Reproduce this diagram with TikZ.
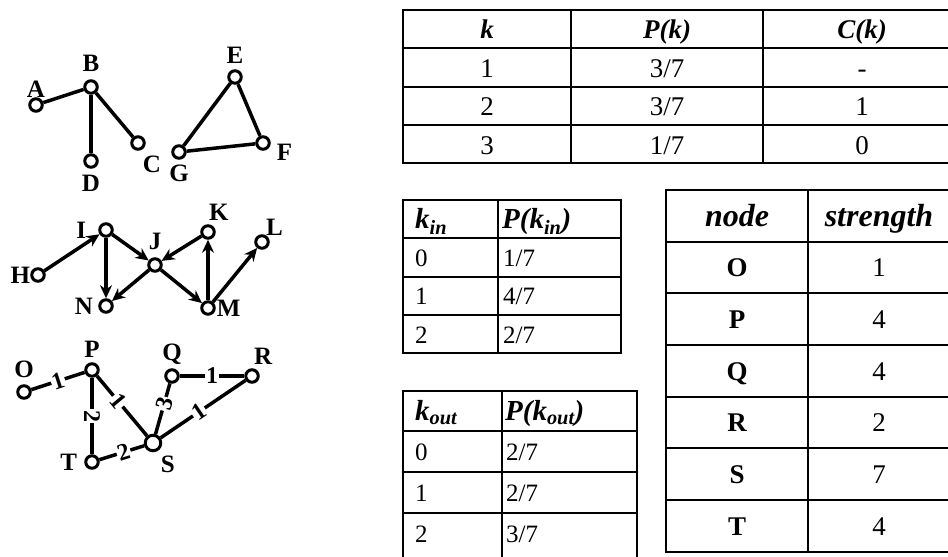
\documentclass[tikz,border=0pt]{standalone}
\usepackage{fontspec}
\setmainfont{Liberation Serif}
\usetikzlibrary{arrows.meta}

\begin{document}
\begin{tikzpicture}[x=1pt, y=-1pt,
    vertex/.style={circle, draw, line width=3pt, fill=white, minimum size=12.5pt, inner sep=0pt,
        label distance=4pt},
    hub/.style={vertex, minimum size=15.5pt},
    lbl/.style={font=\fontsize{25}{25}\selectfont\bfseries, inner sep=0pt},
    link/.style={line width=3.5pt},
    arc/.style={link, -{Stealth[length=13pt, width=12pt]}},
    weight/.style={font=\fontsize{24}{24}\selectfont\bfseries, fill=white, inner sep=1pt, sloped},
    grid/.style={line width=1.8pt},
    cell/.style={inner sep=0pt, anchor=base, font=\fontsize{27}{27}\selectfont},
    head/.style={cell, font=\fontsize{27}{27}\selectfont\bfseries\itshape},
    subhead/.style={cell, anchor=base west, font=\fontsize{29}{29}\selectfont\bfseries\itshape},
    subcell/.style={cell, anchor=base west, font=\fontsize{25}{25}\selectfont}
]
\useasboundingbox (0,0) rectangle (948,557);

% Undirected graph
\node[vertex, label={[lbl]90:A}] (vA) at (36,105) {};
\node[vertex, label={[lbl, label distance=7pt]90:B}] (vB) at (91,87) {};
\node[vertex, label={[lbl, label distance=6pt]-70:C}] (vC) at (138,143) {};
\node[vertex, label={[lbl, label distance=6pt]-90:D}] (vD) at (91,161) {};
\node[vertex, label={[lbl, label distance=6pt]90:E}] (vE) at (235,77) {};
\node[vertex, label={[lbl, label distance=6pt]-5:F}] (vF) at (263,143) {};
\node[vertex, label={[lbl, label distance=5pt]-90:G}] (vG) at (179,152) {};
\draw[link] (vA) -- (vB);
\draw[link] (vB) -- (vD);
\draw[link] (vB) -- (vC);
\draw[link] (vE) -- (vF);
\draw[link] (vF) -- (vG);
\draw[link] (vG) -- (vE);

% Directed graph
\node[vertex, label={[lbl]182:H}] (vH) at (38,275) {};
\node[vertex, label={[lbl, label distance=12pt]180:I}] (vI) at (106,230) {};
\node[vertex, label={[lbl, label distance=7pt]90:J}] (vJ) at (155,265) {};
\node[vertex, label={[lbl, label distance=4pt]85:K}] (vK) at (208,232) {};
\node[vertex, label={[lbl]60:L}] (vL) at (262,242) {};
\node[vertex, label={[lbl, label distance=1pt]0:M}] (vM) at (208,308) {};
\node[vertex, label={[lbl, label distance=5pt]180:N}] (vN) at (106,306) {};
\draw[arc] (vH) -- (vI);
\draw[arc] (vI) -- (vN);
\draw[arc] (vI) -- (vJ);
\draw[arc] (vK) -- (vJ);
\draw[arc] (vJ) -- (vN);
\draw[arc] (vJ) -- (vM);
\draw[arc] (vM) -- (vK);
\draw[arc] (vM) -- (vL);

% Weighted graph
\node[vertex, label={[lbl, label distance=6pt]90:O}] (vO) at (24,392) {};
\node[vertex, label={[lbl, label distance=5pt]90:P}] (vP) at (92,370) {};
\node[vertex, label={[lbl, label distance=4pt]90:Q}] (vQ) at (172,376) {};
\node[vertex, label={[lbl, label distance=4pt]80:R}] (vR) at (252,376) {};
\node[hub, label={[lbl, label distance=6pt]-60:S}] (vS) at (153,443) {};
\node[vertex, label={[lbl, label distance=7pt]180:T}] (vT) at (92,462) {};
\draw[link] (vO) -- node[weight] {1} (vP);
\draw[link] (vP) -- node[weight] {2} (vT);
\draw[link] (vP) -- node[weight, pos=0.42] {1} (vS);
\draw[link] (vQ) -- node[weight, pos=0.4] {3} (vS);
\draw[link] (vQ) -- node[weight] {1} (vR);
\draw[link] (vR) -- node[weight, pos=0.55] {1} (vS);
\draw[link] (vT) -- node[weight, pos=0.54] {2} (vS);

% Degree and clustering table
\draw[grid] (403,10) rectangle (961,163);
\foreach \y in {48,87,125} \draw[grid] (403,\y) -- (961,\y);
\foreach \x in {571,763} \draw[grid] (\x,10) -- (\x,163);
\node[head] (hdK) at (487,38.5) {k};
\node[head] (hdPK) at (667,38.5) {P(k)};
\node[head] (hdCK) at (862,38.5) {C(k)};
\foreach \k/\p/\c [count=\i] in {1/{3/7}/-, 2/{3/7}/1, 3/{1/7}/0} {
    \node[cell] (degK\i) at (487,{38.5+38.5*\i}) {\k};
    \node[cell] (degP\i) at (667,{38.5+38.5*\i}) {\p};
    \node[cell] (degC\i) at (862,{38.5+38.5*\i}) {\c};
}

% In-degree table
\draw[grid] (403,200) rectangle (621,353);
\foreach \y in {238,277,315} \draw[grid] (403,\y) -- (621,\y);
\draw[grid] (498,200) -- (498,353);
\node[subhead] (hdKin) at (415,228.5) {k\textsubscript{in}};
\node[subhead] (hdPin) at (502,228.5) {P(k\textsubscript{in})};
\foreach \k/\p [count=\i] in {0/{1/7}, 1/{4/7}, 2/{2/7}} {
    \node[subcell] (inK\i) at (415,{227.5+38.5*\i}) {\k};
    \node[subcell] (inP\i) at (503,{227.5+38.5*\i}) {\p};
}

% Out-degree table
\draw[grid] (403,391) rectangle (637,560);
\foreach \y in {431,472,513} \draw[grid] (403,\y) -- (637,\y);
\draw[grid] (502,391) -- (502,560);
\node[subhead] (hdKout) at (415,420.5) {k\textsubscript{out}};
\node[subhead] (hdPout) at (505,420.5) {P(k\textsubscript{out})};
\foreach \k/\p [count=\i] in {0/{2/7}, 1/{2/7}, 2/{3/7}} {
    \node[subcell] (outK\i) at (415,{419.5+41*\i}) {\k};
    \node[subcell] (outP\i) at (506,{419.5+41*\i}) {\p};
}

% Strength table
\draw[grid] (666,190) rectangle (951,552);
\foreach \y in {242,293,345,397,448,500} \draw[grid] (666,\y) -- (951,\y);
\draw[grid] (808,190) -- (808,552);
\node[head, font=\fontsize{32}{32}\selectfont\bfseries\itshape] (hdNode) at (737,226) {node};
\node[head, font=\fontsize{32}{32}\selectfont\bfseries\itshape] (hdStr) at (879,226) {strength};
\foreach \v/\w [count=\i] in {O/1, P/4, Q/4, R/2, S/7, T/4} {
    \node[cell, font=\fontsize{27}{27}\selectfont\bfseries] (strV\i) at (737,{225+51.7*\i}) {\v};
    \node[cell] (strW\i) at (879,{225+51.7*\i}) {\w};
}
\end{tikzpicture}
\end{document}
